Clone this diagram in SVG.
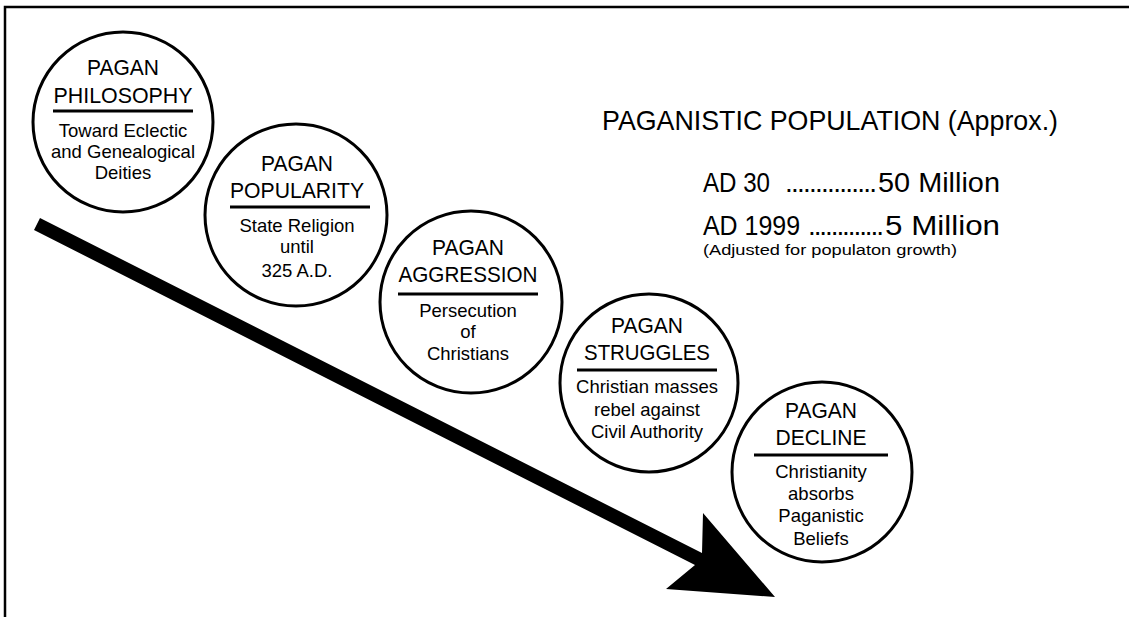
<svg xmlns="http://www.w3.org/2000/svg" width="1129" height="617" viewBox="0 0 1129 617">
<style>
.c{fill:#fff;stroke:#000;stroke-width:3}
.sep{stroke:#000;stroke-width:3}
.h{font-family:"Liberation Sans",Arial,sans-serif;font-size:22.5px;text-anchor:middle;fill:#000}
.b{font-family:"Liberation Sans",Arial,sans-serif;font-size:18.5px;text-anchor:middle;fill:#000}
.t{font-family:"Liberation Sans",Arial,sans-serif;fill:#000}
</style>
<rect width="1129" height="617" fill="#fff"/>
<path d="M5,617 V7 H1129" fill="none" stroke="#000" stroke-width="2.5"/>
<g id="connectors">
<polygon points="40,218 702,553 703,513 775,597 666,589 695,565 34,230" fill="#000"/>
</g>
<g id="philosophy">
<circle class="c" cx="123" cy="122" r="90"/>
<text class="h" x="123" y="75" textLength="72" lengthAdjust="spacingAndGlyphs">PAGAN</text>
<text class="h" x="123" y="103" textLength="139" lengthAdjust="spacingAndGlyphs">PHILOSOPHY</text>
<line class="sep" x1="53" y1="111" x2="193" y2="111"/>
<text class="b" x="123" y="137">Toward Eclectic</text>
<text class="b" x="123" y="158">and Genealogical</text>
<text class="b" x="123" y="179">Deities</text>
</g>
<g id="popularity">
<circle class="c" cx="296" cy="215" r="91"/>
<text class="h" x="297" y="171" textLength="72" lengthAdjust="spacingAndGlyphs">PAGAN</text>
<text class="h" x="297" y="198" textLength="134" lengthAdjust="spacingAndGlyphs">POPULARITY</text>
<line class="sep" x1="230" y1="207" x2="370" y2="207"/>
<text class="b" x="297" y="232">State Religion</text>
<text class="b" x="297" y="253">until</text>
<text class="b" x="297" y="277">325 A.D.</text>
</g>
<g id="aggression">
<circle class="c" cx="471" cy="302" r="91"/>
<text class="h" x="468" y="255" textLength="72" lengthAdjust="spacingAndGlyphs">PAGAN</text>
<text class="h" x="468" y="282" textLength="139" lengthAdjust="spacingAndGlyphs">AGGRESSION</text>
<line class="sep" x1="398" y1="294" x2="538" y2="294"/>
<text class="b" x="468" y="317">Persecution</text>
<text class="b" x="468" y="338">of</text>
<text class="b" x="468" y="360">Christians</text>
</g>
<g id="struggles">
<circle class="c" cx="649" cy="383" r="89"/>
<text class="h" x="647" y="333" textLength="72" lengthAdjust="spacingAndGlyphs">PAGAN</text>
<text class="h" x="647" y="360" textLength="126" lengthAdjust="spacingAndGlyphs">STRUGGLES</text>
<line class="sep" x1="577" y1="370" x2="717" y2="370"/>
<text class="b" x="647" y="393">Christian masses</text>
<text class="b" x="647" y="416">rebel against</text>
<text class="b" x="647" y="438">Civil Authority</text>
</g>
<g id="decline">
<circle class="c" cx="822" cy="472" r="90"/>
<text class="h" x="821" y="418" textLength="72" lengthAdjust="spacingAndGlyphs">PAGAN</text>
<text class="h" x="821" y="445" textLength="91" lengthAdjust="spacingAndGlyphs">DECLINE</text>
<line class="sep" x1="754" y1="455" x2="888" y2="455"/>
<text class="b" x="821" y="478">Christianity</text>
<text class="b" x="821" y="500">absorbs</text>
<text class="b" x="821" y="522">Paganistic</text>
<text class="b" x="821" y="545">Beliefs</text>
</g>
<g id="population">
<text class="t" x="602" y="130" font-size="27.5" textLength="456" lengthAdjust="spacingAndGlyphs">PAGANISTIC POPULATION (Approx.)</text>
<text class="t" y="192" font-size="28"><tspan x="703" textLength="67" lengthAdjust="spacingAndGlyphs">AD 30</tspan><tspan x="785" textLength="92" lengthAdjust="spacing">...............</tspan><tspan x="878" textLength="122" lengthAdjust="spacingAndGlyphs">50 Million</tspan></text>
<text class="t" y="235" font-size="28"><tspan x="703" textLength="97" lengthAdjust="spacingAndGlyphs">AD 1999</tspan><tspan x="808" textLength="76" lengthAdjust="spacing">.............</tspan><tspan x="885" textLength="115" lengthAdjust="spacingAndGlyphs">5 Million</tspan></text>
<text class="t" x="703" y="255" font-size="15.5" textLength="254" lengthAdjust="spacingAndGlyphs">(Adjusted for populaton growth)</text>
</g>
</svg>
